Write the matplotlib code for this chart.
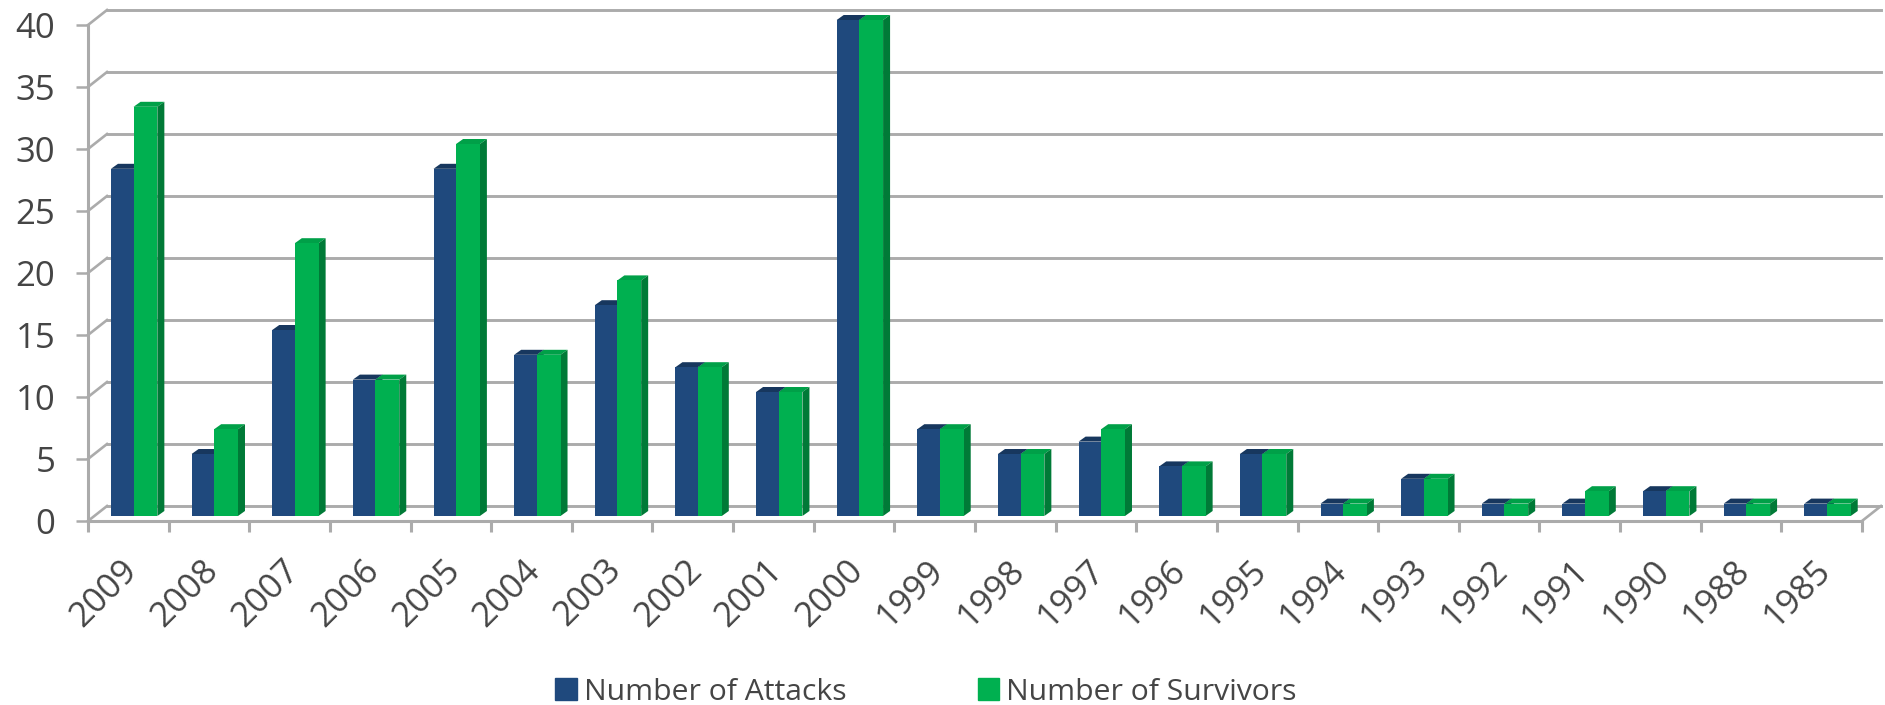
import matplotlib
matplotlib.use("Agg")
import matplotlib.pyplot as plt
from matplotlib.patches import Patch
from matplotlib.transforms import ScaledTranslation

years = ["2009", "2008", "2007", "2006", "2005", "2004", "2003", "2002", "2001", "2000", "1999",
         "1998", "1997", "1996", "1995", "1994", "1993", "1992", "1991", "1990", "1988", "1985"]
attacks = [28, 5, 15, 11, 28, 13, 17, 12, 10, 40, 7, 5, 6, 4, 5, 1, 3, 1, 1, 2, 1, 1]
survivors = [33, 7, 22, 11, 30, 13, 19, 12, 10, 40, 7, 5, 7, 4, 5, 1, 3, 1, 2, 2, 1, 1]
yticks = [0, 5, 10, 15, 20, 25, 30, 35, 40]

W, H = 1885, 705
GREY = "#ababab"
TEXT = "#454545"
BLUE, BLUE_TOP, BLUE_SIDE = "#1f497d", "#17375e", "#17375e"
GREEN, GREEN_TOP, GREEN_SIDE = "#00b050", "#00a048", "#007a37"

plt.rcParams["font.family"] = ["Open Sans", "DejaVu Sans"]

fig = plt.figure(figsize=(W / 100, H / 100), dpi=100)
ax = fig.add_axes([88 / W, 1 - 521 / H, (1862 - 88) / W, (521 - 25) / H])
ax.set_xlim(0, 22)
ax.set_ylim(0, 40)

# depth of the fake 3d box and of each bar, in data units
wall_dx, wall_dy = 19 / 80.6, 15 / 12.4
bar_dx, bar_dy = 7 / 80.6, 5 / 12.4
lift = 5 / 12.4
w1, w2 = 0.28, 0.295
start = 0.285

for y in yticks:
    ax.plot([0, wall_dx], [y, y + wall_dy], color=GREY, lw=1.9, clip_on=False, zorder=1)
    ax.plot([wall_dx, 22 + wall_dx], [y + wall_dy, y + wall_dy], color=GREY, lw=2.1, clip_on=False, zorder=1)
ax.plot([22, 22 + wall_dx], [0, wall_dy], color=GREY, lw=1.9, clip_on=False, zorder=1)


def draw_series(x0, width, values, front, top, side, z):
    xs = [i + x0 for i in range(len(values))]
    ax.bar(xs, values, width=width, bottom=lift, align="edge", color=front, zorder=z + 1, clip_on=False)
    for x, v in zip(xs, values):
        y = v + lift
        ax.fill([x, x + bar_dx, x + width + bar_dx, x + width], [y, y + bar_dy, y + bar_dy, y],
                color=top, lw=0, zorder=z, clip_on=False)
        ax.fill([x + width, x + width + bar_dx, x + width + bar_dx, x + width], [lift, lift + bar_dy, y + bar_dy, y],
                color=side, lw=0, zorder=z, clip_on=False)


draw_series(start, w1, attacks, BLUE, BLUE_TOP, BLUE_SIDE, 2)
draw_series(start + w1, w2, survivors, GREEN, GREEN_TOP, GREEN_SIDE, 4)

for s in ["top", "right"]:
    ax.spines[s].set_visible(False)
for s in ["left", "bottom"]:
    ax.spines[s].set_color(GREY)
    ax.spines[s].set_linewidth(2.2)
    ax.spines[s].set_zorder(8)

ax.set_yticks(yticks)
ax.tick_params(axis="y", length=8.5, width=1.8, color=GREY, labelcolor=TEXT, labelsize=25, pad=15)

ax.set_xticks(range(23))
ax.set_xticklabels([])
ax.tick_params(axis="x", which="major", length=8, width=2.2, color=GREY)
ax.set_xticks([i + 0.5 for i in range(22)], minor=True)
ax.set_xticklabels(years, minor=True, rotation=45, ha="right", rotation_mode="anchor")
ax.tick_params(axis="x", which="minor", length=0, labelcolor=TEXT, labelsize=25, pad=23)
# labels sit a little left of the category centre
shift = ScaledTranslation(-8 / 100, 0, fig.dpi_scale_trans)
for lbl in ax.get_xticklabels(minor=True):
    lbl.set_transform(lbl.get_transform() + shift)

handles = [Patch(color=BLUE, label="Number of Attacks"), Patch(color=GREEN, label="Number of Survivors")]
fig.legend(handles=handles, ncol=2, loc="center", bbox_to_anchor=(926 / W, 1 - 692 / H), frameon=False,
           fontsize=21.7, labelcolor=TEXT, handlelength=0.72, handleheight=0.72,
           handletextpad=0.22, columnspacing=4.36, borderpad=0, borderaxespad=0)

fig.savefig("out.png", dpi=100, facecolor="white")
